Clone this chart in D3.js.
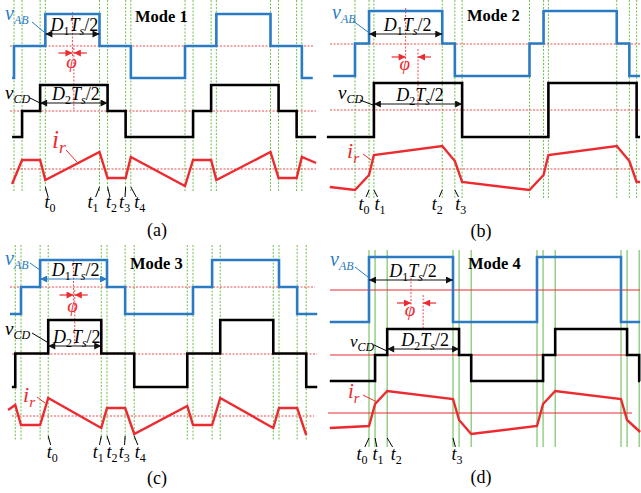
<!DOCTYPE html>
<html>
<head>
<meta charset="utf-8">
<script src="https://cdn.jsdelivr.net/npm/d3@7"></script>
<style>
  html, body { margin: 0; padding: 0; background: #fff; }
  svg { display: block; }
</style>
</head>
<body>
<div id="chart"></div>
<script>
// all times are in degrees of one switching period (0..360)
// voltage levels: -1 low, 0 zero, 1 high; current in arbitrary units

// (a) Mode 1
const vabTimesA = [-4, 0, 66, 180, 246, 360, 426, 540, 606, 629];
const vabLevelsA = [-1, 0, 1, 0, -1, 0, 1, 0, -1, -1];
const vcdTimesA = [-4, 17, 55, 197, 235, 377, 415, 557, 595, 636];
const vcdLevelsA = [-1, 0, 1, 0, -1, 0, 1, 0, -1, -1];
const irTimesA = [-4, 17, 55, 66, 180, 197, 235, 246, 360, 377, 415, 426, 540, 557, 595, 606, 636];
const irValuesA = [-1.5, 0.9, 0.9, -1.1, 1.7, -0.9, -0.9, 1.2, -1.7, 0.9, 0.9, -1.1, 1.7, -0.9, -0.9, 1.2, 0.6];
const edgesA = [0, 17, 55, 66, 180, 197, 235, 246, 360, 377, 415, 426, 540, 557, 595, 606];
const tTimesA = [66, 180, 197, 235, 246];

// (b) Mode 2
const vabTimesB = [-45, 0, 29, 180, 206, 360, 389, 540, 566, 588];
const vabLevelsB = [-1, 0, 1, 0, -1, 0, 1, 0, -1, -1];
const vcdTimesB = [-58, 39, 221, 399, 581, 588];
const vcdLevelsB = [-1, 1, -1, 1, -1, -1];
const irTimesB = [-52, 0, 29, 39, 180, 206, 221, 360, 389, 399, 540, 566, 581, 588];
const irValuesB = [-1.8, -2.1, -0.6, 1.4, 2.3, 0.8, -1.3, -2.1, -0.6, 1.4, 2.3, 0.8, -1.3, -1.3];
const edgesB = [0, 29, 39, 180, 206, 221, 360, 389, 399, 540, 566, 581];
const tTimesB = [29, 39, 180, 206];

// (c) Mode 3
const vabTimesC = [-23, 0, 40, 180, 218, 360, 400, 540, 578, 620];
const vabLevelsC = [-1, 0, 1, 0, -1, 0, 1, 0, -1, -1];
const vcdTimesC = [-19, -12, 57, 168, 237, 348, 417, 528, 597, 620];
const vcdLevelsC = [-1, 0, 1, 0, -1, 0, 1, 0, -1, -1];
const irTimesC = [-27, -12, 0, 40, 57, 168, 180, 218, 237, 348, 360, 400, 417, 528, 540, 578, 597];
const irValuesC = [0.6, 1.1, -0.9, -0.9, 1.8, -1.2, 0.8, 0.8, -1.8, 1.0, -0.9, -0.9, 1.8, -1.2, 0.8, 0.8, -1.9];
const edgesC = [-12, 0, 40, 57, 168, 180, 218, 237, 348, 360, 400, 417, 528, 540, 578, 597];
const tTimesC = [57, 168, 180, 218, 237];

// (d) Mode 4
const vabTimesD = [-84, 0, 180, 360, 540, 581];
const vabLevelsD = [-1, 1, -1, 1, -1, -1];
const vcdTimesD = [-84, 13, 39, 193, 219, 373, 399, 553, 579, 581];
const vcdLevelsD = [-1, 0, 1, 0, -1, 0, 1, 0, -1, -1];
const irTimesD = [-84, 0, 13, 39, 180, 193, 219, 360, 373, 399, 540, 553, 581];
const irValuesD = [-1.5, -1.3, 0.9, 2.2, 1.4, -0.7, -2.1, -1.3, 0.9, 2.2, 1.4, -0.7, -1.9];
const edgesD = [0, 13, 39, 180, 193, 219, 360, 373, 399, 540, 553, 579];
const tTimesD = [0, 13, 39, 180];

// duty-cycle arrows (start, end) for each mode
const d1SpanA = [66, 180], d2SpanA = [55, 197];
const d1SpanB = [29, 180], d2SpanB = [39, 221];
const d1SpanC = [40, 180], d2SpanC = [57, 168];
const d1SpanD = [0, 180],  d2SpanD = [39, 193];

const modeNames = ["Mode 1", "Mode 2", "Mode 3", "Mode 4"];
const captions = ["(a)", "(b)", "(c)", "(d)"];

const W = 641, H = 493;
const FONT = '"Liberation Serif", "Times New Roman", serif';
const BLUE = "#2a7bc3", RED = "#ec2a2f", REF_RED = "#f04a4e";
const GREEN = "#6cc04c", GREEN_SOLID = "#86c874";

const svg = d3.select("#chart").append("svg")
    .attr("width", W)
    .attr("height", H);

// arrow heads
const defs = svg.append("defs");
[["blk", "#111"], ["blu", BLUE], ["red", RED]].forEach(([id, c]) => {
  defs.append("marker")
    .attr("id", "ah-" + id)
    .attr("viewBox", "0 0 10 10")
    .attr("refX", 10).attr("refY", 5)
    .attr("markerUnits", "userSpaceOnUse")
    .attr("markerWidth", 8).attr("markerHeight", 7)
    .attr("orient", "auto-start-reverse")
    .append("path").attr("d", "M0,0 L10,5 L0,10 z").attr("fill", c);
});

// text with subscript pieces: [string, size, italic, baselineShift]
function richText(g, x, y, parts, color, anchor) {
  const t = g.append("text")
      .attr("x", x).attr("y", y)
      .attr("font-family", FONT)
      .attr("fill", color)
      .attr("text-anchor", anchor || "start");
  let base = 0;
  parts.forEach(([s, size, italic, shift]) => {
    t.append("tspan").text(s)
      .attr("font-size", size)
      .attr("font-style", italic ? "italic" : "normal")
      .attr("dy", shift - base);
    base = shift;
  });
  return t;
}

function leader(g, pts, color) {
  g.append("line")
    .attr("x1", pts[0][0]).attr("y1", pts[0][1])
    .attr("x2", pts[1][0]).attr("y2", pts[1][1])
    .attr("stroke", color).attr("stroke-width", 1);
}

const panels = [
  { x0: 14, period: 171, vab: [46, 32], vcd: [111, 26], ir: [169, 10],
    gridY: [0, 192], solid: false, hLines: [[10, 313], [10, 316], [10, 316]],
    vabT: vabTimesA, vabL: vabLevelsA, vcdT: vcdTimesA, vcdL: vcdLevelsA,
    irT: irTimesA, irV: irValuesA, edges: edgesA, tT: tTimesA,
    d1: d1SpanA, d2: d2SpanA, d1y: 34, d2y: 103, d1c: "blk",
    mode: [135, 22], phiY: 53, abLine: [12, 58], cdLine: [48, 110], phiText: 68,
    vabLab: [5, 20], vabLead: [[32, 22], [44, 32]],
    vcdLab: [5, 99, 19], vcdLead: [[30, 98], [42, 104]],
    irLab: [52, 148, 25], irLead: [[66, 150], [77, 162]],
    tdx: [4.6, -6.5, 4, -1, 9], tLead: [187, 197], tBase: 208, cap: [157, 236] },
  { x0: 355, period: 174.5, vab: [43.5, 32.5], vcd: [110, 27], ir: [169, 10],
    gridY: [0, 198], solid: false, hLines: [[330, 640], [330, 640], [330, 640]],
    vabT: vabTimesB, vabL: vabLevelsB, vcdT: vcdTimesB, vcdL: vcdLevelsB,
    irT: irTimesB, irV: irValuesB, edges: edgesB, tT: tTimesB,
    d1: d1SpanB, d2: d2SpanB, d1y: 34, d2y: 104, d1c: "blk",
    mode: [467, 21], phiY: 57, abLine: [8, 63], cdLine: [49, 110], phiText: 70,
    vabLab: [332, 19], vabLead: [[353, 21], [368, 32]],
    vcdLab: [338, 99, 19], vcdLead: [[360, 100], [373, 105]],
    irLab: [347, 158, 22], irLead: [[363, 154], [371, 160]],
    tdx: [-5, 6, -5, 6], tLead: [190, 197], tBase: 210, cap: [481, 237] },
  { x0: 21, period: 172, vab: [287, 27], vcd: [353.5, 33.5], ir: [416, 10],
    gridY: [245, 441], solid: false, hLines: [[10, 315], [12, 317], [12, 314]],
    vabT: vabTimesC, vabL: vabLevelsC, vcdT: vcdTimesC, vcdL: vcdLevelsC,
    irT: irTimesC, irV: irValuesC, edges: edgesC, tT: tTimesC,
    d1: d1SpanC, d2: d2SpanC, d1y: 279, d2y: 346, d1c: "blu",
    mode: [130, 269], phiY: 295, abLine: [260, 305], cdLine: [290, 346], phiText: 312,
    vabLab: [5, 265], vabLead: [[30, 263], [40, 270]],
    vcdLab: [5, 335, 19], vcdLead: [[32, 333], [47, 342]],
    irLab: [23, 402, 22], irLead: [[37, 397], [45, 403]],
    tdx: [4, -3, 5, -1, 6], tLead: [436, 445], tBase: 458, cap: [157, 484] },
  { x0: 369, period: 168, vab: [289.5, 32.5], vcd: [355, 26], ir: [413, 10],
    gridY: [250, 447], solid: true, hLines: [[330, 640], [330, 640], [328, 632]],
    vabT: vabTimesD, vabL: vabLevelsD, vcdT: vcdTimesD, vcdL: vcdLevelsD,
    irT: irTimesD, irV: irValuesD, edges: edgesD, tT: tTimesD,
    d1: d1SpanD, d2: d2SpanD, d1y: 280, d2y: 349, d1c: "blk",
    mode: [468, 269], phiY: 303, abLine: [278, 310], cdLine: [295, 329], phiText: 316,
    vabLab: [330, 266], vabLead: [[355, 267], [368, 277]],
    vcdLab: [350, 347, 17], vcdLead: [[374, 345], [387, 351]],
    irLab: [348, 398, 21], irLead: [[363, 395], [377, 402]],
    tdx: [-7, 3, 9, 4], tLead: [438, 447], tBase: 460, cap: [481, 483] }
];

panels.forEach((p, i) => {
  const g = svg.append("g");
  const x = d3.scaleLinear().domain([0, 360]).range([p.x0, p.x0 + p.period]);
  const yAB = d3.scaleLinear().domain([-1, 1]).range([p.vab[0] + p.vab[1], p.vab[0] - p.vab[1]]);
  const yCD = d3.scaleLinear().domain([-1, 1]).range([p.vcd[0] + p.vcd[1], p.vcd[0] - p.vcd[1]]);
  const yIr = d3.scaleLinear().domain([0, 1]).range([p.ir[0], p.ir[0] - p.ir[1]]);

  // switching instants
  g.selectAll(".edge").data(p.edges).enter().append("line")
    .attr("x1", d => x(d)).attr("x2", d => x(d))
    .attr("y1", p.gridY[0]).attr("y2", p.gridY[1])
    .attr("stroke", p.solid ? GREEN_SOLID : GREEN)
    .attr("stroke-width", p.solid ? 1.3 : 1)
    .attr("stroke-dasharray", p.solid ? null : "2,1.5");

  // zero reference lines (kept on whole pixels so they stay soft like the original)
  [yAB(0), yCD(0), yIr(0)].forEach((yy, k) => {
    const yr = Math.round(yy);
    g.append("line")
      .attr("x1", p.hLines[k][0]).attr("x2", p.hLines[k][1])
      .attr("y1", yr).attr("y2", yr)
      .style("stroke", p.solid ? RED : REF_RED)
      .attr("stroke-width", p.solid ? 1.2 : 1.1)
      .attr("stroke-dasharray", p.solid ? null : "2,1.5");
  });

  // phase-shift centre lines
  const cAB = (x(p.d1[0]) + x(p.d1[1])) / 2;
  const cCD = (x(p.d2[0]) + x(p.d2[1])) / 2;
  [[cAB, p.abLine], [cCD, p.cdLine]].forEach(([cx, yy]) => {
    g.append("line")
      .attr("x1", cx).attr("x2", cx).attr("y1", yy[0]).attr("y2", yy[1])
      .style("stroke", REF_RED).attr("stroke-width", 1)
      .attr("stroke-dasharray", "2,1.5");
  });

  // waveforms
  const stepLine = (ys) => d3.line().curve(d3.curveStepAfter).x(d => x(d[0])).y(d => ys(d[1]));
  g.append("path").datum(d3.zip(p.vabT, p.vabL))
    .attr("d", stepLine(yAB)).attr("fill", "none")
    .attr("stroke", BLUE).attr("stroke-width", 2.6);
  g.append("path").datum(d3.zip(p.vcdT, p.vcdL))
    .attr("d", stepLine(yCD)).attr("fill", "none")
    .attr("stroke", "#000").attr("stroke-width", 2.6);
  g.append("path").datum(d3.zip(p.irT, p.irV))
    .attr("d", d3.line().x(d => x(d[0])).y(d => yIr(d[1]))).attr("fill", "none")
    .attr("stroke", RED).attr("stroke-width", 2.4);

  // duty arrows
  [[p.d1, p.d1y, p.d1c, "1"], [p.d2, p.d2y, "blk", "2"]].forEach(([span, yy, c, n]) => {
    g.append("line")
      .attr("x1", x(span[0])).attr("x2", x(span[1]))
      .attr("y1", yy).attr("y2", yy)
      .attr("stroke", c === "blu" ? BLUE : "#111").attr("stroke-width", 1.2)
      .attr("marker-start", "url(#ah-" + c + ")")
      .attr("marker-end", "url(#ah-" + c + ")");
    richText(g, (x(span[0]) + x(span[1])) / 2 + 2, yy - 3,
      [["D", 18, true, 0], [n, 12, false, 4], ["T", 18, true, 0], ["s", 12, true, 4], ["/2", 18, false, 0]],
      "#000", "middle");
  });

  // phi arrows
  [[cAB - 14, cAB], [cCD + 13, cCD]].forEach(([a, b]) => {
    g.append("line")
      .attr("x1", a).attr("x2", b).attr("y1", p.phiY).attr("y2", p.phiY)
      .attr("stroke", RED).attr("stroke-width", 1.2)
      .attr("marker-end", "url(#ah-red)");
  });
  richText(g, cAB - 1, p.phiText, [["φ", 19, true, 0]], RED, "middle");

  // mode title
  g.append("text")
    .attr("x", p.mode[0]).attr("y", p.mode[1])
    .attr("font-family", FONT).attr("font-weight", "bold").attr("font-size", 16.5)
    .text(modeNames[i]);

  // signal labels
  richText(g, p.vabLab[0], p.vabLab[1], [["v", 20, true, 0], ["AB", 12, true, 4]], BLUE);
  leader(g, p.vabLead, BLUE);
  richText(g, p.vcdLab[0], p.vcdLab[1], [["v", p.vcdLab[2], true, 0], ["CD", 12, true, 4]], "#000");
  leader(g, p.vcdLead, "#000");
  richText(g, p.irLab[0], p.irLab[1], [["i", p.irLab[2], true, 0], ["r", p.irLab[2] * 0.7, true, 5]], RED);
  leader(g, p.irLead, RED);

  // time instants
  p.tT.forEach((t, k) => {
    const xe = x(t), xt = xe + p.tdx[k];
    leader(g, [[xe, p.tLead[0]], [xe + p.tdx[k] * 0.6, p.tLead[1]]], "#000");
    richText(g, xt, p.tBase, [["t", 18, true, 0], [String(k), 12, false, 4]], "#000", "middle");
  });

  // caption
  g.append("text")
    .attr("x", p.cap[0]).attr("y", p.cap[1])
    .attr("text-anchor", "middle")
    .attr("font-family", FONT).attr("font-size", 18)
    .text(captions[i]);
});
</script>
</body>
</html>
